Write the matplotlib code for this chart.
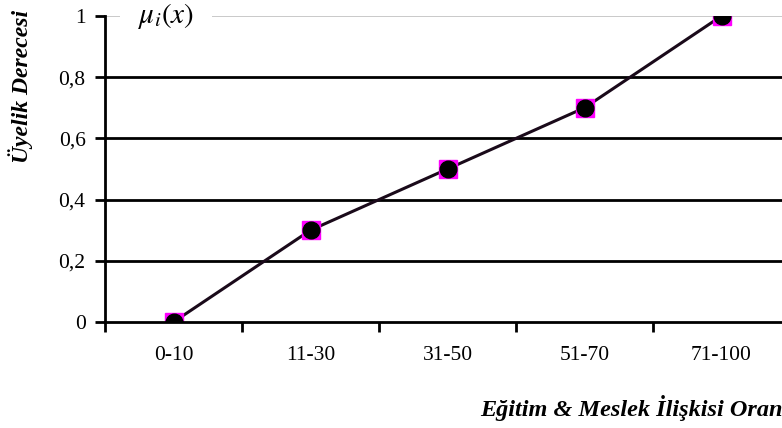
import numpy as np
import matplotlib.pyplot as plt
from matplotlib.ticker import FixedLocator, FuncFormatter

plt.rcParams['font.family'] = ['Liberation Serif', 'DejaVu Serif']
plt.rcParams['mathtext.fontset'] = 'stix'

#### Data ####
categories = ['0-10', '11-30', '31-50', '51-70', '71-100']
membership = [0.0, 0.3, 0.5, 0.7, 1.0]
y_ticks = [0, 0.2, 0.4, 0.6, 0.8, 1.0]

fig = plt.figure(figsize=(7.82, 4.28), dpi=100)
# axes run a bit past the right edge of the figure
ax = fig.add_axes([0.1343, 0.2477, 0.876, 0.715])

x = np.arange(len(categories))

# horizontal grid lines
for v in y_ticks[1:-1]:
    ax.axhline(v, color='black', lw=2, zorder=1)
ax.axhline(1.0, color='#c0c0c0', lw=1.2, zorder=1)

ax.plot(x, membership, color='#1a0a1a', lw=2.2, zorder=3)
ax.plot(x, membership, 's', ms=13, color='#ff00ff', zorder=4)
ax.plot(x, membership, 'o', ms=12, color='black', zorder=5)

ax.set_xlim(-0.5, len(categories) - 0.5)
ax.set_ylim(0, 1)

ax.spines['top'].set_visible(False)
ax.spines['right'].set_visible(False)
ax.spines['left'].set_linewidth(2)
ax.spines['bottom'].set_linewidth(2)
ax.spines['left'].set_zorder(6)
ax.spines['bottom'].set_zorder(6)

# category labels centred, tick marks on the boundaries
ax.xaxis.set_major_locator(FixedLocator(x))
ax.set_xticklabels(categories, fontsize=15.5)
ax.tick_params(axis='x', which='major', length=0, pad=17)
ax.xaxis.set_minor_locator(FixedLocator(np.arange(-0.5, len(categories), 1.0)))
ax.tick_params(axis='x', which='minor', length=7, width=2, direction='out')

ax.set_yticks(y_ticks)
ax.yaxis.set_major_formatter(FuncFormatter(lambda v, p: ('%g' % v).replace('.', ',')))
ax.tick_params(axis='y', length=7, width=2, direction='out', labelsize=15.5, pad=7)

# membership function symbol sitting on the top line
ax.text(0.089, 1.0, r'$\mu_i(x)$', fontsize=21, va='center', ha='center',
        transform=ax.get_yaxis_transform(), zorder=7,
        bbox=dict(facecolor='white', edgecolor='none', pad=13))

fig.text(0.026, 0.797, 'Üyelik Derecesi', rotation=90, fontsize=17,
         fontweight='bold', fontstyle='italic', ha='center', va='center')
fig.text(0.614, 0.046, 'Eğitim & Meslek İlişkisi Oranı', fontsize=17.5,
         fontweight='bold', fontstyle='italic', ha='left', va='center')

fig.savefig('out.png', dpi=100)
